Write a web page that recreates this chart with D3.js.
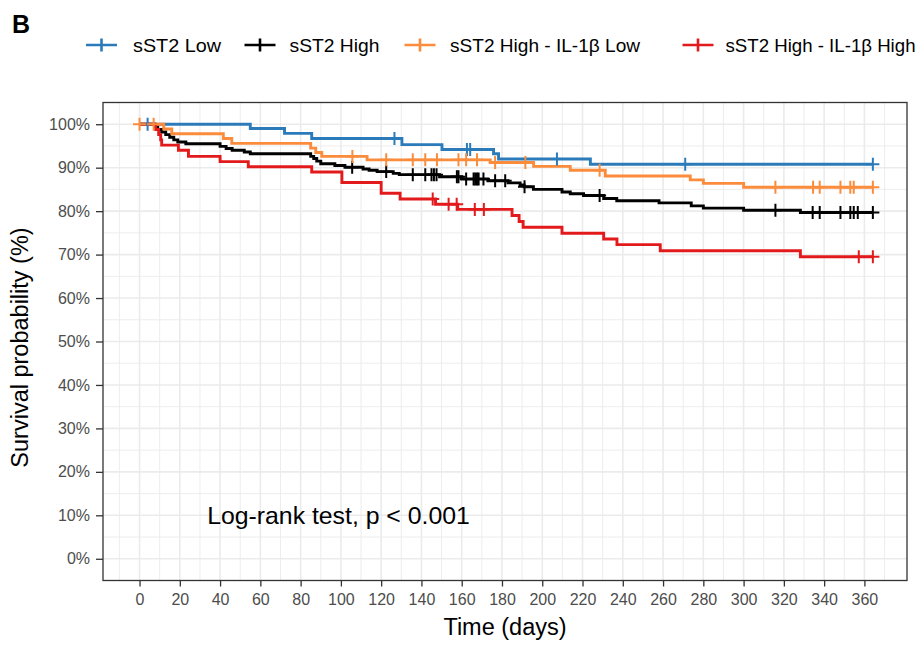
<!DOCTYPE html>
<html>
<head>
<meta charset="utf-8">
<script src="https://cdn.jsdelivr.net/npm/d3@7"></script>
<style>
  html, body { margin: 0; padding: 0; background: #ffffff; }
  svg text { font-family: "Liberation Sans", Arial, Helvetica, sans-serif; }
</style>
</head>
<body>
<svg id="chart" width="921" height="647"></svg>
<script>
// ---- Kaplan–Meier estimates: event times (days) and survival (%) after each event ----
const groupNames = ["sST2 Low", "sST2 High", "sST2 High - IL-1β Low", "sST2 High - IL-1β High"];

const lowTimes = [55, 72, 85.5, 130.3, 150.2, 175.8, 178.3, 223.9];
const lowSurv  = [99.0, 97.9, 96.7, 95.3, 94.2, 93.2, 92.0, 90.8];
const lowCensor = [4, 126.6, 162.6, 164.2, 207.3, 271, 364.2];

const highTimes = [7.5, 9, 11, 13, 15, 17, 19, 23, 40, 43, 46, 52, 55, 85, 86.5, 88, 90, 97, 102,
                   111, 114, 118, 126, 129, 149, 160, 173, 183, 189, 191, 195.6, 209.8, 213.9,
                   220.5, 230.5, 237, 258, 274, 280, 300, 328.2];
const highSurv  = [99.4, 98.8, 98.2, 97.6, 97.0, 96.4, 95.9, 95.5, 94.9, 94.4, 94.0, 93.6, 93.2,
                   92.6, 92.1, 91.5, 90.9, 90.5, 90.1, 89.7, 89.4, 89.1, 88.7, 88.4, 87.9, 87.4,
                   87.0, 86.5, 86.0, 85.6, 85.0, 84.4, 84.0, 83.6, 82.9, 82.4, 81.9, 81.2, 80.7,
                   80.2, 79.7];
const highCensor = [105.6, 122.5, 135.7, 141.9, 145, 146.2, 147.5, 157.6, 158.4, 162.2, 165.9,
                    166.7, 167.6, 168.4, 170.8, 176.6, 181.6, 191.2, 228.5, 315.8, 334.3, 337.8,
                    348.1, 353, 354.7, 356.7, 364.2];

const hiLowTimes = [12, 16, 41.6, 45.8, 85, 87.5, 90.5, 113, 174.2, 195.7, 213.9, 231.3, 273.5, 280, 300];
const hiLowSurv  = [98.9, 97.8, 96.7, 95.6, 94.5, 93.5, 92.6, 91.8, 91.2, 90.3, 89.4, 88.1, 87.2, 86.4, 85.5];
const hiLowCensor = [0, 7, 105.7, 122.5, 135.7, 141.9, 147.7, 158.4, 162.2, 167.6, 176.6, 191.6,
                     228.5, 315.8, 334.5, 337.8, 348.1, 353, 354.7, 364.2];

const hiHighTimes = [8, 9.5, 10.5, 11, 19.3, 24.3, 40, 54, 85.5, 100.5, 120, 129.4, 147, 158,
                     185, 188.5, 190.5, 209.8, 230.5, 237.1, 258.6, 328.2];
const hiHighSurv  = [98.8, 97.6, 96.4, 95.2, 94.0, 92.6, 91.4, 90.2, 89.0, 86.6, 84.1, 82.8, 81.6,
                     80.4, 79.0, 77.6, 76.3, 74.9, 73.6, 72.3, 70.9, 69.5];
const hiHighCensor = [145.6, 153.5, 157.5, 166.5, 171, 357.2, 364.2];

// ---- axis ticks ----
const xTickValues = [0, 20, 40, 60, 80, 100, 120, 140, 160, 180, 200, 220, 240, 260, 280, 300, 320, 340, 360];
const yTickValues = [0, 10, 20, 30, 40, 50, 60, 70, 80, 90, 100];
const pvalueText = "Log-rank test, p < 0.001";

// ---- presentation ----
const groupColors = ["#2b7bba", "#000000", "#fb8c3c", "#e31a1c"];
const series = [
  { times: lowTimes,    surv: lowSurv,    censor: lowCensor },
  { times: highTimes,   surv: highSurv,   censor: highCensor },
  { times: hiLowTimes,  surv: hiLowSurv,  censor: hiLowCensor },
  { times: hiHighTimes, surv: hiHighSurv, censor: hiHighCensor }
];

const svg = d3.select("#chart");
const panel = { left: 103, right: 907, top: 102.5, bottom: 580.5 };

const x = d3.scaleLinear().domain([-18.15, 381.15]).range([panel.left, panel.right]);
const y = d3.scaleLinear().domain([-5, 105]).range([panel.bottom, panel.top]);

// panel grid
const grid = svg.append("g");
const minorX = d3.range(-10, 381, 20);
const minorY = d3.range(5, 100, 10);
grid.selectAll(".gxm").data(minorX).enter().append("line")
  .attr("x1", d => x(d)).attr("x2", d => x(d))
  .attr("y1", panel.top).attr("y2", panel.bottom)
  .attr("stroke", "#ebebeb").attr("stroke-width", 0.9);
grid.selectAll(".gym").data(minorY).enter().append("line")
  .attr("x1", panel.left).attr("x2", panel.right)
  .attr("y1", d => y(d)).attr("y2", d => y(d))
  .attr("stroke", "#ebebeb").attr("stroke-width", 0.9);
grid.selectAll(".gx").data(xTickValues).enter().append("line")
  .attr("x1", d => x(d)).attr("x2", d => x(d))
  .attr("y1", panel.top).attr("y2", panel.bottom)
  .attr("stroke", "#ebebeb").attr("stroke-width", 1.6);
grid.selectAll(".gy").data(yTickValues).enter().append("line")
  .attr("x1", panel.left).attr("x2", panel.right)
  .attr("y1", d => y(d)).attr("y2", d => y(d))
  .attr("stroke", "#ebebeb").attr("stroke-width", 1.6);

// survival step function value at time t
function survAt(s, t) {
  let v = 100;
  for (let i = 0; i < s.times.length; i++) {
    if (s.times[i] <= t) v = s.surv[i]; else break;
  }
  return v;
}

const line = d3.line().x(d => x(d[0])).y(d => y(d[1])).curve(d3.curveStepAfter);
const curves = svg.append("g");

series.forEach((s, i) => {
  const tEnd = d3.max(s.censor.concat(s.times));
  const pts = [[0, 100]].concat(s.times.map((t, k) => [t, s.surv[k]]));
  pts.push([tEnd, survAt(s, tEnd)]);
  curves.append("path").datum(pts)
    .attr("d", line)
    .attr("fill", "none")
    .attr("stroke", groupColors[i])
    .attr("stroke-width", 2.9)
    .attr("stroke-linejoin", "miter");
});

// censoring marks (+)
const half = 6.5;
series.forEach((s, i) => {
  curves.selectAll(".c" + i).data(s.censor).enter().append("path")
    .attr("d", t => {
      const cx = x(t), cy = y(survAt(s, t));
      return `M${cx - half},${cy}H${cx + half}M${cx},${cy - half}V${cy + half}`;
    })
    .attr("fill", "none")
    .attr("stroke", groupColors[i])
    .attr("stroke-width", 2);
});

// panel border
svg.append("rect")
  .attr("x", panel.left).attr("y", panel.top)
  .attr("width", panel.right - panel.left).attr("height", panel.bottom - panel.top)
  .attr("fill", "none").attr("stroke", "#333333").attr("stroke-width", 1.3);

// axes
const xAxis = svg.append("g")
  .attr("transform", `translate(0,${panel.bottom})`)
  .call(d3.axisBottom(x).tickValues(xTickValues).tickSize(6).tickPadding(7).tickFormat(d3.format("d")));
const yAxis = svg.append("g")
  .attr("transform", `translate(${panel.left},0)`)
  .call(d3.axisLeft(y).tickValues(yTickValues).tickSize(7).tickPadding(6).tickFormat(d => d + "%"));
[xAxis, yAxis].forEach(a => {
  a.select(".domain").remove();
  a.selectAll(".tick line").attr("stroke", "#333333").attr("stroke-width", 1.3);
  a.selectAll(".tick text")
    .attr("fill", "#4d4d4d")
    .style("font-size", "16px")
    .style("font-family", "'Liberation Sans', Arial, sans-serif");
});

// axis titles
svg.append("text")
  .attr("x", (panel.left + panel.right) / 2).attr("y", 635)
  .attr("text-anchor", "middle")
  .style("font-size", "23.5px").attr("fill", "#000")
  .text("Time (days)");
svg.append("text")
  .attr("transform", `translate(28,${(panel.top + panel.bottom) / 2 + 6}) rotate(-90)`)
  .attr("text-anchor", "middle")
  .style("font-size", "23.5px").attr("fill", "#000")
  .text("Survival probability (%)");

// p-value annotation
svg.append("text")
  .attr("x", x(33.6)).attr("y", y(10))
  .attr("dy", "0.35em")
  .style("font-size", "24.8px").attr("fill", "#000")
  .text(pvalueText);

// panel tag
svg.append("text")
  .attr("x", 12).attr("y", 33)
  .style("font-size", "25px").style("font-weight", "bold").attr("fill", "#000")
  .text("B");

// legend
const keyCenters = [101.5, 260, 420, 698];
const labelOffsets = [31.5, 29.5, 30, 27.5];
const labelWidths = [88, 90, 190, 190];
const legend = svg.append("g");
groupNames.forEach((name, i) => {
  const cx = keyCenters[i], cy = 45;
  legend.append("path")
    .attr("d", `M${cx - 15.5},${cy}H${cx + 15.5}M${cx},${cy - 6.5}V${cy + 6.5}`)
    .attr("stroke", groupColors[i]).attr("stroke-width", 2.6).attr("fill", "none");
  legend.append("text")
    .attr("x", cx + labelOffsets[i]).attr("y", cy).attr("dy", "0.36em")
    .attr("textLength", labelWidths[i]).attr("lengthAdjust", "spacingAndGlyphs")
    .style("font-size", "19px").attr("fill", "#000")
    .text(name);
});
</script>
</body>
</html>
